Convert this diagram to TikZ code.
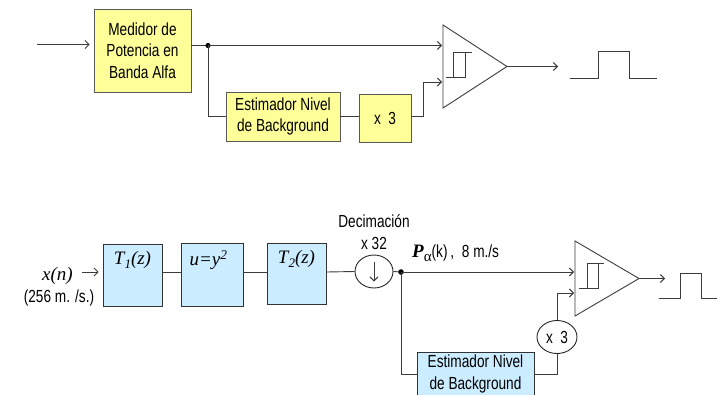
\documentclass[tikz,border=0pt]{standalone}
\usepackage{fontspec}
\setmainfont{Liberation Sans}[FakeStretch=0.78]
\newfontfamily\tnr{Liberation Serif}
\usetikzlibrary{arrows.meta,shapes.geometric}
\definecolor{boxyellow}{HTML}{FFFF99}
\definecolor{boxblue}{HTML}{CCECFF}
\definecolor{wirecol}{HTML}{3C3C3C}
\newcommand{\txtfont}{\fontsize{17.5}{21.5}\selectfont}
\newcommand{\mathfnt}{\fontsize{19}{20}\selectfont\tnr\itshape}
\newcommand{\lowsub}[1]{\raisebox{-4pt}{\fontsize{13}{13}\selectfont #1}}
\tikzset{
  wire/.style={draw=wirecol, line width=0.9pt},
  arr/.style={wire, -{Straight Barb[length=4pt,width=8pt]}},
  ybox/.style={rectangle, draw=black!65, fill=boxyellow, line width=0.9pt, align=center, inner sep=0pt, font=\txtfont},
  bbox/.style={rectangle, draw=black!80, fill=boxblue, line width=0.9pt, align=center, inner sep=0pt, font=\txtfont},
  circ/.style={ellipse, draw=black!85, fill=white, line width=0.9pt, inner sep=0pt, font=\txtfont},
  txt/.style={inner sep=0pt, font=\txtfont, align=center},
  dotc/.style={fill=black}
}
\begin{document}
\begin{tikzpicture}[x=1pt,y=-1pt]
\clip (0,0) rectangle (717,394);
% ---------------- top diagram ----------------
\node[ybox, minimum width=97pt, minimum height=83pt] (med) at (142.5,50.5) {Medidor de\\Potencia en\\Banda Alfa};
\coordinate (in1) at (37,44.5);
\draw[arr, shorten >=4pt] (in1) -- (in1 -| med.west);
\coordinate (dot1) at (208,45.5);
\draw[wire] (med.east |- dot1) -- (dot1);
\fill[dotc] (dot1) circle (2.6pt);
\coordinate (t1a) at (443,25);
\coordinate (t1b) at (443,108);
\coordinate (t1c) at (507,66.5);
\coordinate (t1in2) at (443,82);
\draw[wire] (t1a) -- (t1c) -- (t1b) -- cycle;
\draw[arr, shorten >=1pt] (dot1) -- (dot1 -| t1a);
\node[ybox, minimum width=114pt, minimum height=49pt] (est1) at (283,116.5) {Estimador Nivel\\de Background};
\draw[wire] (dot1) |- (est1.west);
\node[ybox, minimum width=52pt, minimum height=48pt] (x3a) at (385,118) {x\ \ 3};
\draw[wire] (est1.east) -- (est1.east -| x3a.west);
\draw[arr, shorten >=1pt] (est1.east -| x3a.east) -- ++(12,0) |- (t1in2);
\draw[wire] (446,77) -- (465,77) -- (465,52) (453,77) -- (453,52) -- (472,52);
\coordinate (out1) at (558,66.5);
\draw[arr] (t1c) -- (out1);
\draw[wire] (570,78) -- (598,78) -- (598,51) -- (629,51) -- (629,78) -- (657,78);
% ---------------- bottom diagram ----------------
\coordinate (lane) at (0,272);
\node[txt, anchor=base] (xn) at (57.5,280) {\mathfnt x(n)};
\node[txt, anchor=base] (rate) at (59,302) {(256 m. /s.)};
\coordinate (xin) at (82,272);
\node[bbox, minimum width=59pt, minimum height=62pt,
  label={[anchor=north, inner sep=0pt, yshift=-8pt]north:{\mathfnt T\lowsub{1}(z)}}] (T1) at (132.5,275) {};
\draw[arr, shorten >=4pt] (xin) -- (xin -| T1.west);
\node[bbox, minimum width=62pt, minimum height=63pt,
  label={[anchor=north, inner sep=0pt, yshift=-8pt, xshift=-3.5pt]north:{\mathfnt u=y\textsuperscript{2}}}] (U) at (212,274.5) {};
\node[bbox, minimum width=59pt, minimum height=61pt,
  label={[anchor=north, inner sep=0pt, yshift=-8pt]north:{\mathfnt T\lowsub{2}(z)}}] (T2) at (296.5,273.5) {};
\draw[wire] (T1.east |- lane) -- (U.west |- lane);
\draw[wire] (U.east |- lane) -- (T2.west |- lane);
\node[circ, minimum width=38pt, minimum height=33pt,
  label={[txt, align=center, label distance=5pt]above:Decimación\\x 32}] (dec) at (374,271.5) {};
\draw[wire] (T2.east |- lane) -- (dec.west);
\draw[arr] ([yshift=10pt]dec.center) -- ([yshift=-10pt]dec.center);
\coordinate (dot2) at (401,272);
\draw[wire] (dec.east) -- (dot2);
\fill[dotc] (dot2) circle (2.8pt);
\coordinate (t2a) at (575,241);
\coordinate (t2b) at (575,316);
\coordinate (t2c) at (639,278.5);
\coordinate (t2in2) at (575,293);
\draw[wire] (t2a) -- (t2c) -- (t2b) -- cycle;
\draw[arr, shorten >=1pt] (dot2) -- (dot2 -| t2a);
\node[txt, anchor=base west] (plab) at (412,257) {{\fontsize{19}{20}\selectfont\tnr\bfseries\itshape P}\raisebox{-4pt}{\fontsize{15}{15}\selectfont\tnr α}(k)\,,\ \ 8 m./s};
\node[bbox, minimum width=117pt, minimum height=44pt] (est2) at (475.5,374) {Estimador Nivel\\de Background};
\draw[wire] (dot2) |- (est2.west);
\node[circ, minimum width=40pt, minimum height=33pt] (x3b) at (557,337) {x\ \ 3};
\draw[wire] (est2.east) -| (x3b.south);
\draw[arr, shorten >=1pt] (x3b.north) |- (t2in2);
\draw[wire] (579,288) -- (598,288) -- (598,263) (587,288) -- (587,263) -- (604,263);
\coordinate (out2) at (665,278.5);
\draw[arr] (t2c) -- (out2);
\draw[wire] (659,298) -- (680,298) -- (680,273) -- (701,273) -- (701,298) -- (717,298);
\end{tikzpicture}
\end{document}
